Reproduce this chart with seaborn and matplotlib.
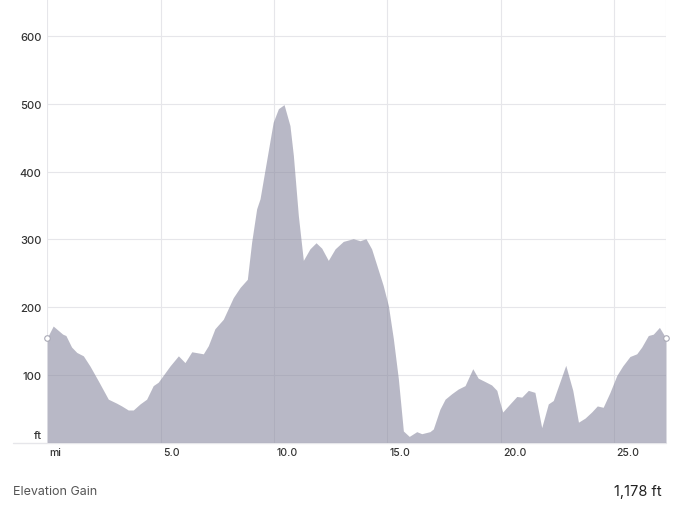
import matplotlib
matplotlib.use("Agg")
import matplotlib.pyplot as plt
import seaborn as sns
import pandas as pd

distance_mi = [0, 0.26, 0.68, 0.82, 1.07, 1.30, 1.59, 1.88, 2.25, 2.69, 3.06, 3.28, 3.57, 3.79, 4.09,
               4.38, 4.67, 4.89, 5.41, 5.78, 6.07, 6.37, 6.88, 7.10, 7.39, 7.76, 8.20, 8.50, 8.82, 9.01,
               9.23, 9.38, 9.96, 10.19, 10.44, 10.70, 10.85, 11.07, 11.29, 11.58, 11.85, 12.10, 12.39, 12.69, 13.05,
               13.49, 13.79, 14.05, 14.30, 14.81, 15.04, 15.26, 15.48, 15.70, 15.96, 16.29, 16.51, 16.87, 17.02, 17.31,
               17.54, 17.83, 18.12, 18.42, 18.76, 19.00, 19.30, 19.59, 19.82, 19.96, 20.08, 20.40, 20.70, 20.92, 21.21,
               21.50, 21.80, 22.09, 22.31, 22.86, 23.17, 23.42, 23.71, 24.00, 24.25, 24.51, 24.81, 25.11, 25.37, 25.69,
               25.99, 26.21, 26.50, 26.72, 26.99, 27.28]
elevation_ft = [155, 172, 160, 158, 141, 133, 128, 113, 91, 64, 58, 54, 48, 48, 57,
                64, 84, 89, 113, 128, 118, 134, 131, 143, 168, 182, 214, 229, 241, 296,
                345, 360, 473, 493, 499, 468, 424, 335, 269, 286, 295, 287, 269, 286, 297,
                301, 298, 301, 286, 232, 202, 153, 94, 17, 9, 16, 13, 16, 20, 49,
                64, 72, 79, 84, 109, 95, 90, 85, 77, 59, 45, 57, 68, 67, 77,
                74, 22, 57, 62, 114, 77, 30, 36, 45, 54, 52, 74, 99, 113, 127,
                131, 141, 158, 160, 170, 154]

x_ticks = [0, 5, 10, 15, 20, 25]
x_labels = ["mi", "5.0", "10.0", "15.0", "20.0", "25.0"]
y_ticks = [100, 200, 300, 400, 500, 600]
y_labels = ["100", "200", "300", "400", "500", "600"]
summary_label = "Elevation Gain"
summary_value = "1,178 ft"

FILL = "#8a8aa0"
GRID = "#e6e6ea"
TXT = "#333333"

sns.set_theme(style="white")
plt.rcParams["font.family"] = ["Inter", "DejaVu Sans"]

df = pd.DataFrame({"mi": distance_mi, "ft": elevation_ft})
xmax = distance_mi[-1]

fig = plt.figure(figsize=(6.8, 5.1), dpi=100)
ax = fig.add_axes([47.3 / 680, 1 - 443.5 / 510, (666 - 47.3) / 680, 443.5 / 510])

sns.lineplot(data=df, x="mi", y="ft", ax=ax, color="#b9b9c6", linewidth=0, zorder=1.5)
ax.fill_between(df["mi"], 0, df["ft"], color=FILL, alpha=0.6, linewidth=0, zorder=2)

ax.set_xlim(0, xmax)
ax.set_ylim(0, 655)
for s in ax.spines.values():
    s.set_visible(False)

ax.set_xticks(x_ticks + [xmax])
ax.set_xticklabels([""] * (len(x_ticks) + 1))
ax.set_yticks(y_ticks)
ax.set_yticklabels(y_labels, fontsize=8, color=TXT, fontweight="medium")
ax.tick_params(axis="y", length=0, pad=4)
ax.tick_params(axis="x", length=10, width=0.8, color=GRID, direction="out")
ax.grid(True, color=GRID, linewidth=0.8, zorder=0)
ax.set_axisbelow(True)
ax.set_xlabel("")
ax.set_ylabel("")

# baseline extending into the left margin
ax.plot([-34.3 / 22.68, xmax], [0, 0], color=GRID, linewidth=1.0, clip_on=False, zorder=1)

for xv, lab in zip(x_ticks, x_labels):
    ax.annotate(lab, xy=(xv, 0), xycoords="data", xytext=(1.5, -3.5), textcoords="offset points",
                ha="left", va="top", fontsize=7.5, color=TXT, fontweight="medium", annotation_clip=False)
ax.annotate("ft", xy=(0, 0), xycoords="data", xytext=(-4, 5.5), textcoords="offset points",
            ha="right", va="center", fontsize=8, color=TXT, fontweight="medium", annotation_clip=False)

# hollow end markers
ax.scatter([distance_mi[0], distance_mi[-1]], [elevation_ft[0], elevation_ft[-1]], s=16,
           facecolor="white", edgecolor="#a9a9b6", linewidth=0.8, zorder=5, clip_on=False)

fig.text(13 / 680, 1 - 492 / 510, summary_label, ha="left", va="center", fontsize=9, color="#555555")
fig.text(662 / 680, 1 - 492 / 510, summary_value, ha="right", va="center", fontsize=10.5, color="#222222")

fig.savefig("out.png", dpi=100, facecolor="white")
